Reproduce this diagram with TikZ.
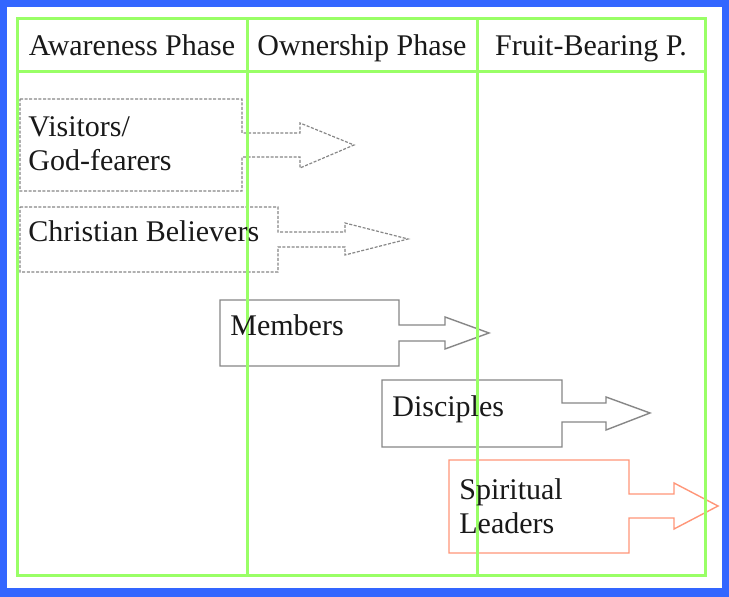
\documentclass[tikz,border=0pt]{standalone}
\usepackage{fontspec}
\setmainfont{Liberation Serif}
\usepackage{tikz}

\definecolor{frameblue}{RGB}{51,102,255}
\definecolor{gridgreen}{RGB}{153,255,102}
\definecolor{boxgray}{RGB}{135,135,135}
\definecolor{leadsalmon}{RGB}{255,150,120}
\definecolor{inkblack}{RGB}{25,25,25}

\tikzset{
  gridline/.style={draw=gridgreen, line width=1.5pt},
  dashcallout/.style={draw=boxgray, line width=0.6pt, dash pattern=on 1.5pt off 0.8pt},
  graycallout/.style={draw=boxgray, line width=0.7pt},
  leadcallout/.style={draw=leadsalmon, line width=0.7pt},
  phasetext/.style={anchor=base, inner sep=0pt, text=inkblack},
  boxtext/.style={anchor=base west, inner sep=0pt, align=left, text=inkblack}
}

\begin{document}
\begin{tikzpicture}[x=0.5pt, y=-0.5pt, font=\fontsize{15}{17}\selectfont]
\useasboundingbox (0,0) rectangle (729,597);
% frame
\fill[frameblue] (0,0) rectangle (729,597);
\fill[white] (7,7) rectangle (722,588);

% callout boxes
\draw[dashcallout] (20,99) -- (242,99) -- (242,133) -- (300,133) -- (300,123) -- (354,145)
  -- (300,168) -- (300,157) -- (242,157) -- (242,191) -- (20,191) -- cycle;
\draw[dashcallout] (20,207) -- (278,207) -- (278,232) -- (345,232) -- (345,223) -- (408,239)
  -- (345,255) -- (345,247) -- (278,247) -- (278,272) -- (20,272) -- cycle;
\draw[graycallout] (220,300) -- (399,300) -- (399,325) -- (445,325) -- (445,317) -- (489,333)
  -- (445,349) -- (445,341) -- (399,341) -- (399,366) -- (220,366) -- cycle;
\draw[graycallout] (382,380) -- (562,380) -- (562,403) -- (606,403) -- (606,397) -- (650,413)
  -- (606,430) -- (606,422) -- (562,422) -- (562,447) -- (382,447) -- cycle;
\draw[leadcallout] (449,460) -- (629,460) -- (629,494) -- (674,494) -- (674,483) -- (718,506)
  -- (674,529) -- (674,518) -- (629,518) -- (629,553) -- (449,553) -- cycle;

% phase table
\draw[gridline] (17,19) rectangle (705,576);
\draw[gridline] (17,72) -- (705,72);
\draw[gridline] (247,19) -- (247,576);
\draw[gridline] (477,19) -- (477,576);

% phase headings
\node[phasetext] (aware) at (132,56) {Awareness Phase};
\node[phasetext] (owner) at (362,56) {Ownership Phase};
\node[phasetext] (fruit) at (591,56) {Fruit-Bearing P.};

% box texts
\node[boxtext, anchor=west] (visitors) at (28,144) {Visitors/\\God-fearers};
\node[boxtext] (believers) at (28,242) {Christian Believers};
\node[boxtext] (members) at (230,336) {Members};
\node[boxtext] (disciples) at (392,417) {Disciples};
\node[boxtext, anchor=west] (leaders) at (459,506) {Spiritual\\Leaders};

\end{tikzpicture}
\end{document}
